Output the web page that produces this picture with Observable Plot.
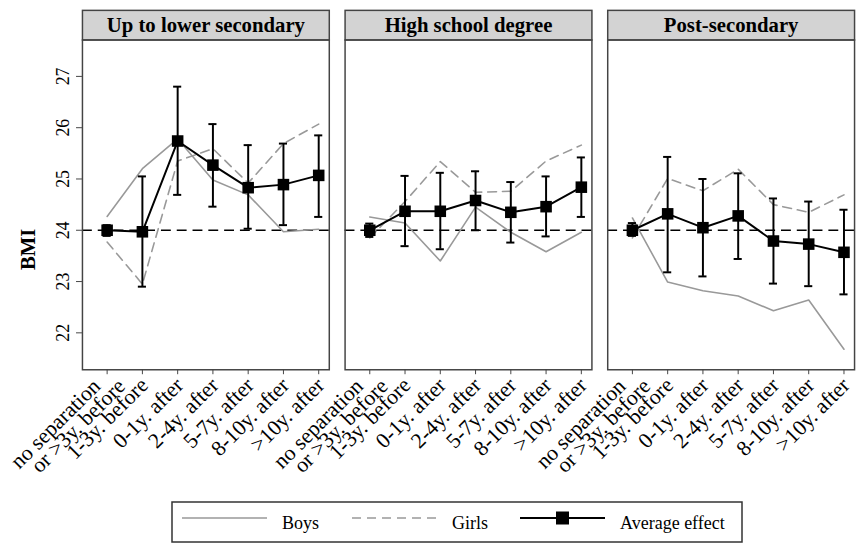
<!DOCTYPE html>
<html>
<head>
<meta charset="utf-8">
<script src="https://cdn.jsdelivr.net/npm/d3@7"></script>
<script src="https://cdn.jsdelivr.net/npm/@observablehq/plot@0.6"></script>
<style>
  html, body { margin: 0; padding: 0; background: #fff; }
  #wrap { width: 859px; height: 550px; overflow: hidden; position: relative; background: #fff; }
  #wrap svg { display: block; overflow: visible; }
</style>
</head>
<body>
<div id="wrap"></div>
<script>
const panels = ["Up to lower secondary", "High school degree", "Post-secondary"];
const periods = ["no separation\nor >3y. before", "1-3y. before", "0-1y. after", "2-4y. after", "5-7y. after", "8-10y. after", ">10y. after"];
const yTicks = [22, 23, 24, 25, 26, 27];
const baseline = [24];

const boys = [
  [24.27, 25.2, 25.78, 24.98, 24.69, 23.97, 24.02],
  [24.26, 24.14, 23.40, 24.45, 23.96, 23.58, 23.96],
  [24.24, 22.99, 22.82, 22.72, 22.43, 22.64, 21.68]
];
const girls = [
  [23.77, 22.95, 25.35, 25.59, 24.92, 25.69, 26.07],
  [23.85, 24.56, 25.34, 24.74, 24.76, 25.35, 25.66],
  [23.85, 25.01, 24.77, 25.19, 24.50, 24.35, 24.69]
];
const avg = [
  [24.00, 23.97, 25.74, 25.27, 24.83, 24.89, 25.07],
  [24.00, 24.37, 24.37, 24.58, 24.35, 24.46, 24.84],
  [24.00, 24.32, 24.05, 24.28, 23.79, 23.73, 23.57]
];
const ciLow = [
  [23.89, 22.90, 24.69, 24.46, 24.03, 24.10, 24.26],
  [23.87, 23.69, 23.63, 24.00, 23.76, 23.88, 24.26],
  [23.89, 23.18, 23.10, 23.44, 22.96, 22.91, 22.75]
];
const ciHigh = [
  [24.10, 25.05, 26.80, 26.07, 25.66, 25.69, 25.85],
  [24.13, 25.06, 25.12, 25.15, 24.94, 25.05, 25.42],
  [24.14, 25.43, 25.00, 25.11, 24.62, 24.56, 24.40]
];

const rows = [];
panels.forEach((edu, p) => {
  periods.forEach((lab, i) => {
    rows.push({edu, i, boys: boys[p][i], girls: girls[p][i], avg: avg[p][i], lo: ciLow[p][i], hi: ciHigh[p][i]});
  });
});

// tick label lines (multi-line labels split into separate lines)
const labelLines = [];
panels.forEach(edu => {
  periods.forEach((lab, i) => {
    const parts = lab.split("\n");
    parts.forEach((t, k) => labelLines.push({edu, i, t, k, n: parts.length}));
  });
});

const W = 870, H = 500, mT = 40, mB = 126, mL = 82, mR = 5;
const plotH = H - mT - mB;
const serif = "'Liberation Serif', 'Times New Roman', serif";
const capHalf = 0.115;
const lblStyle = {fx: "edu", x: "i", text: "t", frameAnchor: "bottom", rotate: -45, textAnchor: "end", lineAnchor: "middle", fontSize: 22, fill: "#000"};

const chart = Plot.plot({
  width: W,
  height: H,
  marginTop: mT,
  marginBottom: mB,
  marginLeft: mL,
  marginRight: mR,
  style: {fontFamily: serif, background: "#fff", color: "#000", overflow: "visible"},
  fx: {domain: panels, axis: null, label: null, paddingInner: 0.062, paddingOuter: 0},
  x: {type: "linear", domain: [-0.7, 6.3]},
  y: {domain: [21.28, 27.71]},
  marks: [
    Plot.frame({fill: "#d3d3d3", stroke: "#444", strokeWidth: 1.5, insetTop: -30, insetBottom: plotH}),
    Plot.text(panels, {fx: d => d, text: d => d, frameAnchor: "top", lineAnchor: "middle", dy: -15, fontSize: 21, fontWeight: "bold", fill: "#000"}),
    Plot.ruleY(baseline, {stroke: "#000", strokeWidth: 1.6, strokeDasharray: "10,6"}),
    Plot.line(rows, {fx: "edu", x: "i", y: "boys", stroke: "#999", strokeWidth: 1.6}),
    Plot.line(rows, {fx: "edu", x: "i", y: "girls", stroke: "#999", strokeWidth: 1.6, strokeDasharray: "9,6"}),
    Plot.ruleX(rows, {fx: "edu", x: "i", y1: "lo", y2: "hi", stroke: "#000", strokeWidth: 2}),
    Plot.ruleY(rows, {fx: "edu", y: "lo", x1: d => d.i - capHalf, x2: d => d.i + capHalf, stroke: "#000", strokeWidth: 2}),
    Plot.ruleY(rows, {fx: "edu", y: "hi", x1: d => d.i - capHalf, x2: d => d.i + capHalf, stroke: "#000", strokeWidth: 2}),
    Plot.line(rows, {fx: "edu", x: "i", y: "avg", stroke: "#000", strokeWidth: 2}),
    Plot.dot(rows, {fx: "edu", x: "i", y: "avg", symbol: "square", r: 6.6, fill: "#000", stroke: "none"}),
    Plot.frame({stroke: "#444", strokeWidth: 1.5}),
    Plot.axisY({ticks: yTicks, tickFormat: d => String(d), tickSize: 6, tickPadding: 8, tickRotate: -90, textAnchor: "middle", lineAnchor: "bottom", fontSize: 18, label: null, stroke: "#444"}),
    Plot.axisX({ticks: d3.range(periods.length), tickFormat: () => "", tickSize: 5, label: null, stroke: "#444"}),
    // x tick labels
    Plot.text(labelLines.filter(d => d.n === 1), {...lblStyle, dx: 2, dy: 12}),
    Plot.text(labelLines.filter(d => d.n > 1 && d.k === 0), {...lblStyle, dx: -10.5, dy: 13}),
    Plot.text(labelLines.filter(d => d.n > 1 && d.k === 1), {...lblStyle, dx: 14.5, dy: 13}),
    Plot.text(["BMI"], {fx: () => panels[0], text: d => d, frameAnchor: "left", textAnchor: "middle", lineAnchor: "middle", dx: -55, dy: 45, rotate: -90, fontSize: 21, fontWeight: "bold", fill: "#000"})
  ]
});
d3.select(chart).selectAll('g[aria-label="y-axis tick label"]').attr("font-size", 18).style("font-size", "18px");
document.getElementById("wrap").appendChild(chart);

// legend
const lg = d3.select("#wrap").append("svg").attr("width", 859).attr("height", 50)
  .style("font-family", serif).style("position", "relative");
lg.append("rect").attr("x", 172).attr("y", 8).attr("width", 570).attr("height", 40)
  .attr("fill", "#fff").attr("stroke", "#333").attr("stroke-width", 1.5);
const ly = 24;
lg.append("line").attr("x1", 182).attr("x2", 267).attr("y1", ly).attr("y2", ly).attr("stroke", "#999").attr("stroke-width", 1.6);
lg.append("text").attr("x", 282).attr("y", ly + 11).attr("font-size", 18).text("Boys");
lg.append("line").attr("x1", 352).attr("x2", 437).attr("y1", ly).attr("y2", ly).attr("stroke", "#999").attr("stroke-width", 1.6).attr("stroke-dasharray", "9,6");
lg.append("text").attr("x", 452).attr("y", ly + 11).attr("font-size", 18).text("Girls");
lg.append("line").attr("x1", 520).attr("x2", 605).attr("y1", ly).attr("y2", ly).attr("stroke", "#000").attr("stroke-width", 2);
lg.append("rect").attr("x", 556).attr("y", ly - 6.5).attr("width", 13).attr("height", 13).attr("fill", "#000");
lg.append("text").attr("x", 620).attr("y", ly + 11).attr("font-size", 18).text("Average effect");
</script>
</body>
</html>
